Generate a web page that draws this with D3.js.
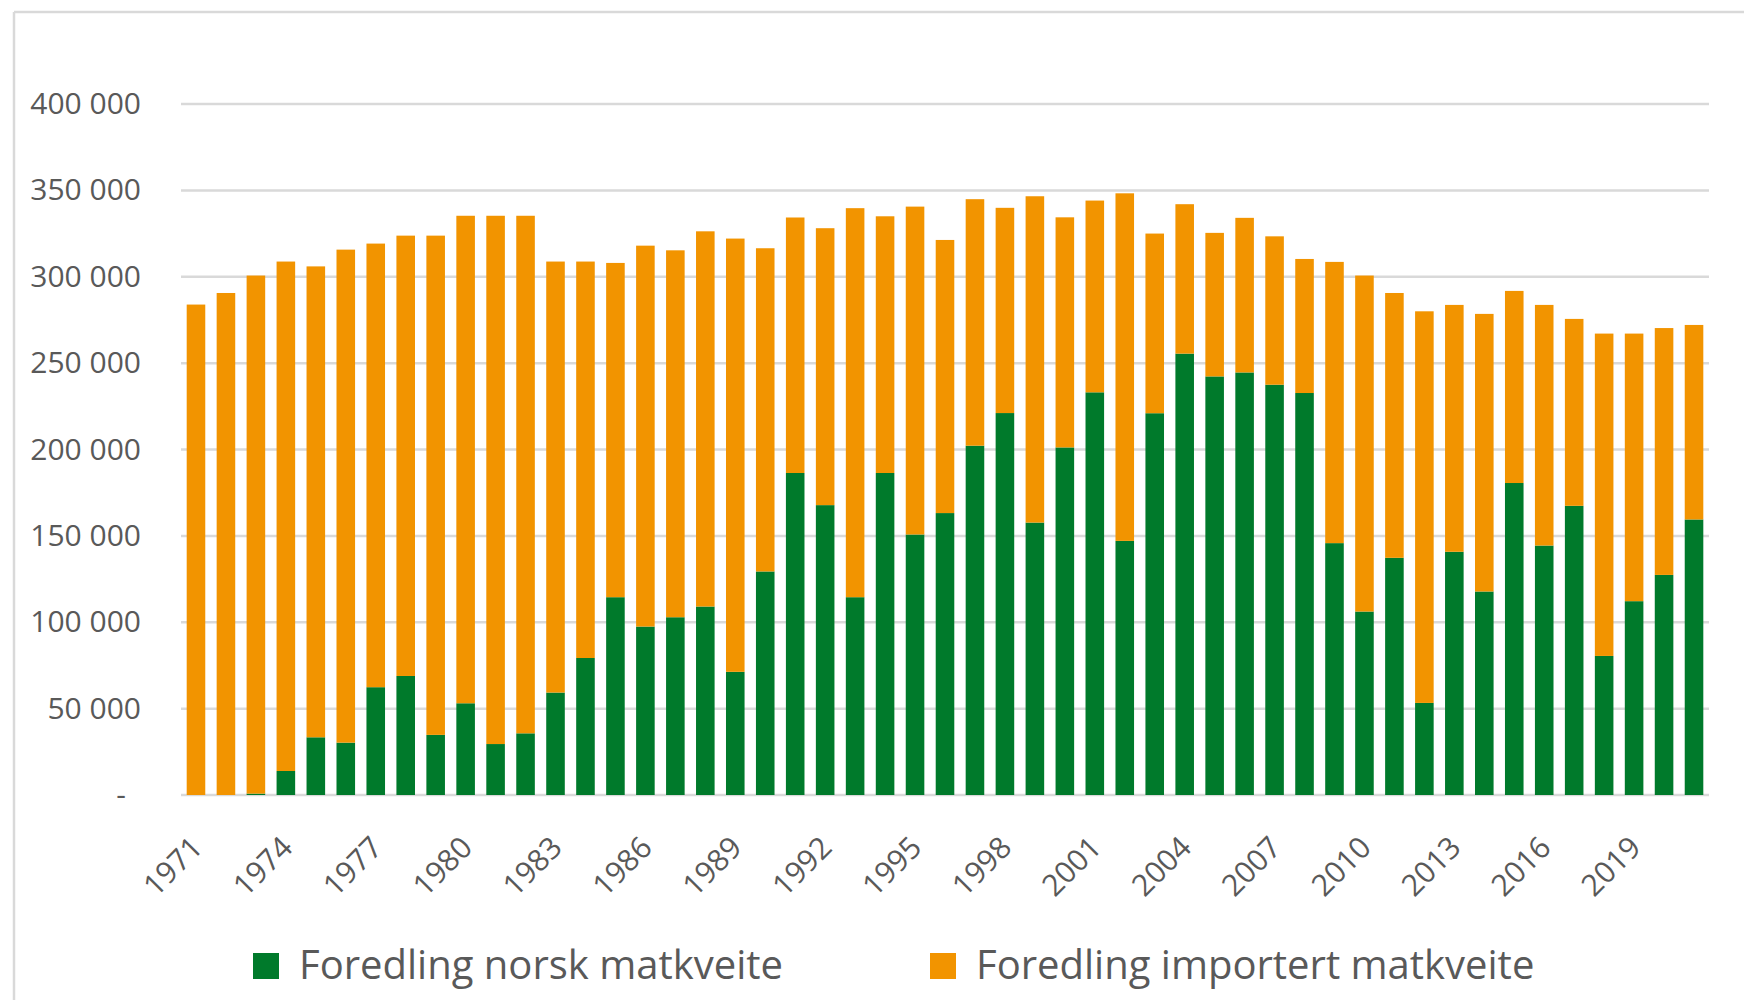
<!DOCTYPE html>
<html>
<head>
<meta charset="utf-8">
<script src="https://cdn.jsdelivr.net/npm/d3@7"></script>
<style>
  body { margin: 0; background: #fff; }
  svg { display: block; font-family: "Open Sans", sans-serif; }
</style>
</head>
<body>
<svg width="1744" height="1000"></svg>
<script>
const years = d3.range(1971, 2022);
const norsk = [0, 0, 800, 13900, 33400, 30300, 62400, 68900, 34800, 53100,
  29500, 35700, 59300, 79300, 114500, 97500, 102900, 109100, 71300, 129400,
  186400, 167800, 114500, 186400, 150800, 163200, 202200, 221100, 157700, 201200,
  233100, 147100, 221000, 255500, 242300, 244600, 237500, 232700, 145800, 106200,
  137300, 53300, 140800, 117800, 180600, 144400, 167400, 80500, 112200, 127400, 159500];
const importert = [283900, 290600, 299900, 294900, 272600, 285400, 256800, 254900, 289000, 282200,
  305800, 299600, 249500, 229500, 193500, 220500, 212400, 217200, 250800, 187100,
  147900, 160300, 225200, 148600, 189800, 158100, 142700, 118800, 188900, 133200,
  111000, 201200, 104000, 86500, 83100, 89500, 85900, 77600, 162800, 194500,
  153300, 226700, 142900, 160700, 111200, 139300, 108200, 186600, 154900, 142900, 112600];
const seriesNames = ["Foredling norsk matkveite", "Foredling importert matkveite"];
const yTicks = [0, 50000, 100000, 150000, 200000, 250000, 300000, 350000, 400000];
const xTickYears = d3.range(1971, 2022, 3);

const colors = { norsk: "#007a2b", importert: "#f29400" };

const svg = d3.select("svg");

// frame (top + left edge only, like the cropped screenshot)
svg.append("line").attr("x1", 14).attr("x2", 1744).attr("y1", 12).attr("y2", 12)
  .attr("stroke", "#d9d9d9").attr("stroke-width", 2.5);
svg.append("line").attr("x1", 14).attr("x2", 14).attr("y1", 12).attr("y2", 1000)
  .attr("stroke", "#d9d9d9").attr("stroke-width", 2.5);

const x = d3.scaleBand().domain(years).range([181, 1709]).paddingInner(0.38).paddingOuter(0.19);
const y = d3.scaleLinear().domain([0, 400000]).range([795, 104]);

// gridlines
svg.append("g").selectAll("line")
  .data(yTicks)
  .join("line")
  .attr("x1", 181).attr("x2", 1709)
  .attr("y1", d => y(d)).attr("y2", d => y(d))
  .attr("stroke", "#d9d9d9").attr("stroke-width", 2.5);

// y axis
const fmt = d => d === 0 ? "-" : d3.format(",")(d).replace(/,/g, " ");
const yAxis = svg.append("g")
  .attr("transform", "translate(141,0)")
  .call(d3.axisLeft(y).tickValues(yTicks).tickFormat(fmt).tickSize(0).tickPadding(0));
yAxis.select(".domain").remove();
yAxis.selectAll("text")
  .attr("font-size", 30)
  .attr("font-family", "Open Sans, sans-serif")
  .attr("fill", "#595959")
  .attr("dx", d => d === 0 ? -15 : 0);

// stacked bars
const rows = years.map((yr, i) => ({ year: yr, norsk: norsk[i], importert: importert[i] }));
const stack = d3.stack().keys(["norsk", "importert"])(rows);

svg.append("g").selectAll("g")
  .data(stack)
  .join("g")
  .attr("fill", d => colors[d.key])
  .selectAll("rect")
  .data(d => d)
  .join("rect")
  .attr("x", d => x(d.data.year))
  .attr("width", x.bandwidth())
  .attr("y", d => y(d[1]))
  .attr("height", d => y(d[0]) - y(d[1]));

// x labels
svg.append("g").selectAll("text")
  .data(xTickYears)
  .join("text")
  .attr("transform", d => `translate(${x(d) + x.bandwidth() / 2 + 1},842) rotate(-45)`)
  .attr("text-anchor", "end")
  .attr("dy", "0.35em")
  .attr("font-size", 30)
  .attr("fill", "#595959")
  .text(d => d);

// legend
const legend = svg.append("g");
const legendItems = [
  { name: seriesNames[0], color: colors.norsk, x: 253 },
  { name: seriesNames[1], color: colors.importert, x: 930 }
];
legendItems.forEach(it => {
  legend.append("rect")
    .attr("x", it.x).attr("y", 953)
    .attr("width", 26).attr("height", 26)
    .attr("fill", it.color);
  legend.append("text")
    .attr("x", it.x + 46).attr("y", 979)
    .attr("font-size", 40)
    .attr("fill", "#595959")
    .text(it.name);
});
</script>
</body>
</html>
